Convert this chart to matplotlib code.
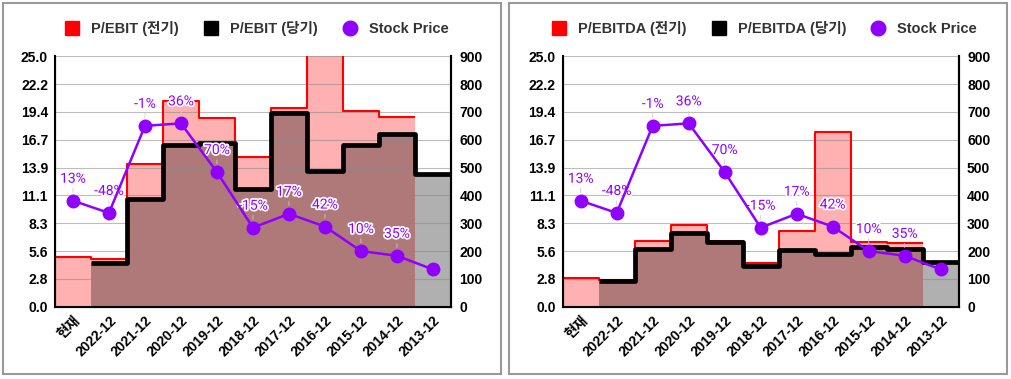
import numpy as np
import matplotlib
matplotlib.use('Agg')
import matplotlib.pyplot as plt
import matplotlib.patheffects as pe
from matplotlib.lines import Line2D
from matplotlib.patches import Rectangle

plt.rcParams['font.family'] = ['Liberation Sans', 'Noto Sans CJK KR', 'DejaVu Sans']

#=============== data ===============
categories = ['현재', '2022-12', '2021-12', '2020-12', '2019-12', '2018-12',
              '2017-12', '2016-12', '2015-12', '2014-12', '2013-12']

ebit_prev = [5.0, 4.8, 14.2, 20.5, 18.8, 14.9, 19.8, 30.0, 19.5, 18.9, np.nan]
ebit_curr = [np.nan, 4.4, 10.8, 16.1, 16.3, 11.8, 19.3, 13.5, 16.1, 17.2, 13.2]

ebitda_prev = [2.9, 2.7, 6.6, 8.2, 6.6, 4.4, 7.6, 17.4, 6.5, 6.4, np.nan]
ebitda_curr = [np.nan, 2.6, 5.8, 7.4, 6.45, 4.1, 5.7, 5.3, 6.0, 5.75, 4.5]

price = [381, 337, 650, 659, 484, 284, 334, 288, 200, 183, 134]
price_labels = ['13%', '-48%', '-1%', '36%', '70%', '-15%', '17%', '42%', '10%', '35%', None]

RED = '#ff0000'
PURPLE = '#9000ff'

fig = plt.figure(figsize=(10.12, 3.79), dpi=100)


def stair(ax, vals, color, lw, alpha):
    vals = np.asarray(vals, dtype=float)
    idx = np.where(~np.isnan(vals))[0]
    i0, i1 = idx.min(), idx.max() + 1
    edges = np.arange(i0, i1 + 1) - 0.5
    ax.stairs(vals[i0:i1], edges, fill=True, color=color, alpha=alpha,
              linewidth=0, zorder=1)
    ax.stairs(vals[i0:i1], edges, baseline=None, fill=False, color=color,
              linewidth=lw, zorder=3, joinstyle='round')


def panel(left, prev, curr, name):
    ax = fig.add_axes([left, 0.1908, 0.3913, 0.6606])
    n = len(categories)
    x = np.arange(n)
    stair(ax, prev, RED, 1.5, 0.31)
    stair(ax, curr, 'black', 3.4, 0.31)
    ax.set_xlim(-0.5, n - 0.5)
    ax.set_ylim(0, 25)
    ax.set_yticks(np.linspace(0, 25, 10))
    ax.set_yticklabels(['%.1f' % v for v in np.linspace(0, 25, 10)])
    ax.set_xticks(x)
    ax.set_xticklabels(categories, rotation=45, ha='right', rotation_mode='anchor')
    ax.set_axisbelow(False)
    ax.grid(axis='y', color='#888888', linewidth=0.8, alpha=0.55, zorder=2)
    ax.tick_params(length=0, labelsize=10, pad=5)
    for lab in ax.get_xticklabels() + ax.get_yticklabels():
        lab.set_fontweight('bold')
    ax.spines['top'].set_visible(False)
    for s in ['left', 'right', 'bottom']:
        ax.spines[s].set_linewidth(1.5)

    ax2 = ax.twinx()
    ax2.set_ylim(0, 900)
    ax2.set_yticks(np.arange(0, 901, 100))
    ax2.tick_params(length=0, labelsize=10, pad=6)
    for lab in ax2.get_yticklabels():
        lab.set_fontweight('bold')
    ax2.spines['top'].set_visible(False)
    ax2.spines['right'].set_linewidth(1.5)
    ax2.plot(x, price, color=PURPLE, lw=1.8, marker='o', markersize=9, zorder=5)
    for xi, p, t in zip(x, price, price_labels):
        if t is None:
            continue
        ax2.annotate(t, xy=(xi, p), xytext=(0, 22), textcoords='offset pixels',
                     ha='center', va='center', fontsize=10, color=PURPLE,
                     family=['Roboto', 'DejaVu Sans'],
                     path_effects=[pe.withStroke(linewidth=2.5, foreground='white')],
                     arrowprops=dict(arrowstyle='-', color='#cccccc', lw=0.6,
                                     shrinkA=0, shrinkB=6),
                     zorder=4)

    handles = [Line2D([], [], ls='', marker='s', color=RED, markersize=9.5),
               Line2D([], [], ls='', marker='s', color='black', markersize=9.5),
               Line2D([], [], ls='', marker='o', color=PURPLE, markersize=10.5)]
    labels = [name + ' (전기)', name + ' (당기)', 'Stock Price']
    leg = ax.legend(handles, labels, loc='center', bbox_to_anchor=(0.5, 1.112),
                    ncol=3, frameon=False, handletextpad=0.3, columnspacing=1.2,
                    prop={'size': 10.5, 'weight': 'bold'})
    for t in leg.get_texts():
        t.set_color('#333333')
    return ax


panel(0.0543, ebit_prev, ebit_curr, 'P/EBIT')
panel(0.556, ebitda_prev, ebitda_curr, 'P/EBITDA')

# panel borders
for x0, w in [(0.0027, 0.492), (0.5033, 0.4915)]:
    fig.add_artist(Rectangle((x0, 0.0132), w, 0.98, transform=fig.transFigure,
                             fill=False, edgecolor='#999999', lw=1.5))

fig.savefig('out.png', dpi=100)
